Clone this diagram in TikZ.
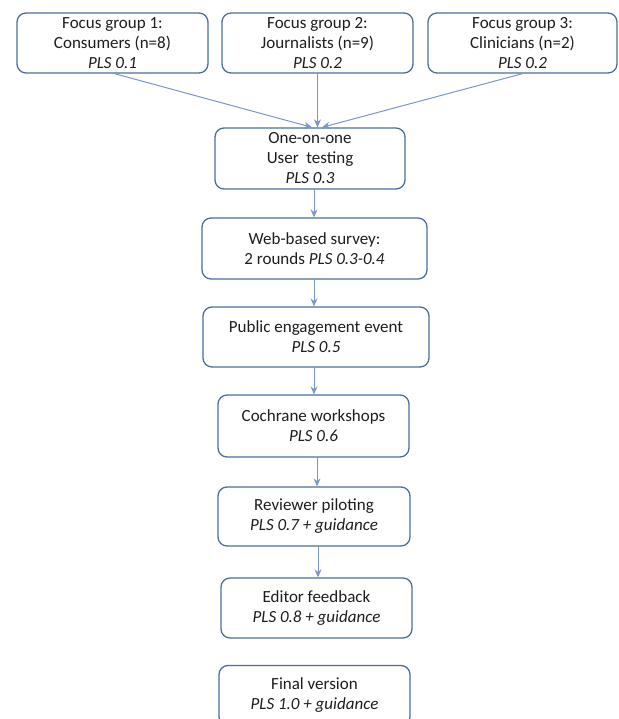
\documentclass[tikz,border=0pt]{standalone}
\usepackage{fontspec}
\setmainfont{Carlito}
\usetikzlibrary{arrows.meta}
\definecolor{boxline}{HTML}{4A6E9E}
\definecolor{arrline}{HTML}{7896CC}
\definecolor{txt}{HTML}{1E1E1E}
\begin{document}
\begin{tikzpicture}[x=1pt,y=-1pt,
  box/.style={draw=boxline,line width=1.3pt,rounded corners=9pt,fill=white,
    minimum height=60pt,align=center,text=txt,inner sep=0pt,
    font=\fontsize{17}{20}\selectfont},
  arr/.style={draw=arrline,line width=1pt,-{Stealth[length=8pt,width=7pt]}}]
\useasboundingbox (0,0) rectangle (618,719);
\begin{scope}
\clip (0,0) rectangle (618,719);
\node[box,minimum width=191pt] (f1) at (112.5,43) {Focus group 1:\\Consumers (n=8)\\\textit{PLS 0.1}};
\node[box,minimum width=191pt] (f2) at (317.5,43) {Focus group 2:\\Journalists (n=9)\\\textit{PLS 0.2}};
\node[box,minimum width=189pt] (f3) at (522.5,43) {Focus group 3:\\Clinicians (n=2)\\\textit{PLS 0.2}};
\node[box,minimum width=190pt,minimum height=61pt] (u) at (310,158.5) {One-on-one\\User\ \ testing\\\textit{PLS 0.3}};
\node[box,minimum width=225pt,minimum height=61pt] (w) at (314.5,248.5) {Web-based survey:\\2 rounds \textit{PLS 0.3-0.4}};
\node[box,minimum width=226pt] (p) at (316,337) {Public engagement event\\\textit{PLS 0.5}};
\node[box,minimum width=191pt,minimum height=62pt] (c) at (313.5,426) {Cochrane workshops\\\textit{PLS 0.6}};
\node[box,minimum width=192pt,minimum height=59pt] (r) at (314,516.5) {Reviewer piloting\\\textit{PLS 0.7 + guidance}};
\node[box,minimum width=191pt] (e) at (316.5,608) {Editor feedback\\\textit{PLS 0.8 + guidance}};
\node[box,minimum width=191pt] (fv) at (314.5,695.5) {Final version\\\textit{PLS 1.0 + guidance}};
\end{scope}
\coordinate (t1) at ([xshift=2]u.north);
\coordinate (t2) at ([xshift=7]u.north);
\coordinate (t3) at ([xshift=12]u.north);
\draw[arr] ([xshift=2]f1.south) -- (t1);
\draw[arr] (f2.south) -- (f2.south |- t2);
\draw[arr] (f3.south) -- (t3);
\coordinate (xa) at (314,0);
\coordinate (xb) at (317,0);
\coordinate (xc) at (318,0);
\draw[arr] (u.south -| xa) -- (w.north -| xa);
\draw[arr] (w.south -| xa) -- (p.north -| xa);
\draw[arr] (p.south -| xa) -- (c.north -| xa);
\draw[arr] (c.south -| xb) -- (r.north -| xb);
\draw[arr] (r.south -| xc) -- (e.north -| xc);
\end{tikzpicture}
\end{document}
